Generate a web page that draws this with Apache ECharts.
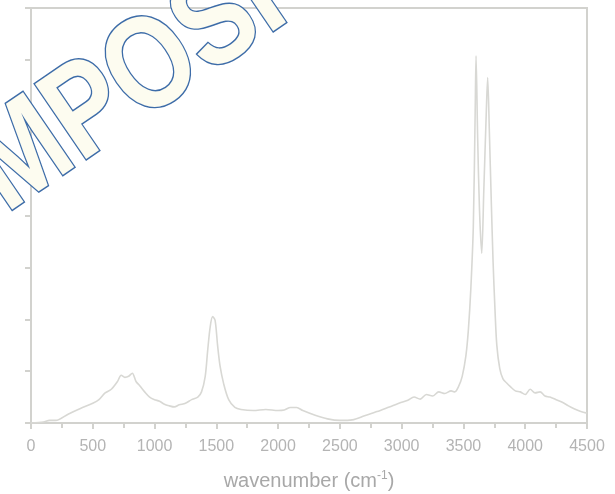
<!DOCTYPE html>
<html><head><meta charset="utf-8">
<script src="https://cdn.jsdelivr.net/npm/echarts@6/dist/echarts.min.js"></script>
<style>html,body{margin:0;padding:0;background:#fff}#c{width:615px;height:494px}</style>
</head><body><div id="c"></div>
<script>
var wavenumber = [0,100,150,200,300,400,500,550,600,650,700,730,760,790,820,850,880,920,960,1000,1040,1080,1120,1160,1200,1250,1300,1350,1380,1410,1430,1450,1470,1490,1510,1530,1560,1600,1650,1700,1800,1900,2000,2050,2100,2150,2200,2300,2400,2500,2600,2700,2800,2900,3000,3050,3100,3150,3200,3250,3300,3350,3400,3430,3460,3490,3520,3540,3560,3580,3595,3602,3615,3630,3648,3665,3685,3696,3710,3725,3740,3755,3770,3794,3820,3850,3880,3920,3960,4000,4040,4080,4120,4160,4200,4250,4300,4350,4400,4450,4500];
var intensity = [0.0,0.02,0.05,0.05,0.17,0.28,0.38,0.45,0.58,0.65,0.8,0.92,0.88,0.9,0.96,0.8,0.72,0.6,0.5,0.45,0.42,0.36,0.33,0.31,0.35,0.38,0.45,0.5,0.6,0.9,1.4,1.85,2.05,1.98,1.5,1.1,0.75,0.45,0.3,0.26,0.24,0.26,0.24,0.25,0.3,0.3,0.24,0.15,0.08,0.05,0.06,0.14,0.22,0.31,0.4,0.44,0.5,0.46,0.55,0.52,0.6,0.57,0.62,0.6,0.7,0.9,1.3,1.8,2.6,3.8,6.0,7.08,5.5,4.1,3.27,4.5,6.0,6.66,5.6,4.3,3.1,2.2,1.5,1.05,0.85,0.77,0.7,0.62,0.6,0.55,0.65,0.58,0.6,0.52,0.5,0.45,0.4,0.33,0.27,0.22,0.19];
var xTicks = {min:0, max:4500, step:500};
var yTicks = {min:0, max:8, step:1};
var xTitle = 'wavenumber (cm';
var watermark = 'MPOSI';

var pts = wavenumber.map(function(w,i){return [w,intensity[i]];});
var axisCol = '#d2d2ce';
var chart = echarts.init(document.getElementById('c'));
chart.setOption({
  animation:false,
  grid:{left:31,right:28,top:8,bottom:71,show:true,borderColor:axisCol,borderWidth:2,containLabel:false,outerBoundsMode:'none'},
  xAxis:{type:'value',min:xTicks.min,max:xTicks.max,interval:xTicks.step,
    axisLine:{lineStyle:{color:axisCol,width:2}},
    axisTick:{show:true,length:6,lineStyle:{color:axisCol,width:2}},
    minorTick:{show:true,splitNumber:2,length:5,lineStyle:{color:axisCol,width:2}},
    splitLine:{show:false},
    axisLabel:{color:'#b4b4b4',fontSize:16,fontFamily:'Liberation Sans',margin:16,formatter:function(v){return String(v);}},
    name:'{a|'+xTitle+'}{s|-1}{a|)}',nameLocation:'middle',nameGap:47,
    nameTextStyle:{rich:{a:{color:'#a8a8a8',fontSize:20,fontFamily:'Liberation Sans'},s:{color:'#a8a8a8',fontSize:12,fontFamily:'Liberation Sans',verticalAlign:'top',padding:[0,0,10,0]}}}
  },
  yAxis:{type:'value',min:yTicks.min,max:yTicks.max,interval:yTicks.step,
    axisLine:{show:true,lineStyle:{color:axisCol,width:2}},
    axisTick:{show:true,length:6,lineStyle:{color:axisCol,width:2}},
    axisLabel:{show:false},splitLine:{show:false}},
  series:[{type:'line',data:pts,showSymbol:false,smooth:0.3,
    lineStyle:{color:'#d8d8d4',width:1.6}}],
  graphic:[{type:'text',x:23,y:238,rotation:0.6,scaleX:0.88,scaleY:1.08,z:100,
    style:{text:watermark,font:'bold 122px "Liberation Sans"',fill:'#fdfcf0',stroke:'#3d6ca8',lineWidth:2.8,align:'left',verticalAlign:'bottom'}}]
});
</script></body></html>
